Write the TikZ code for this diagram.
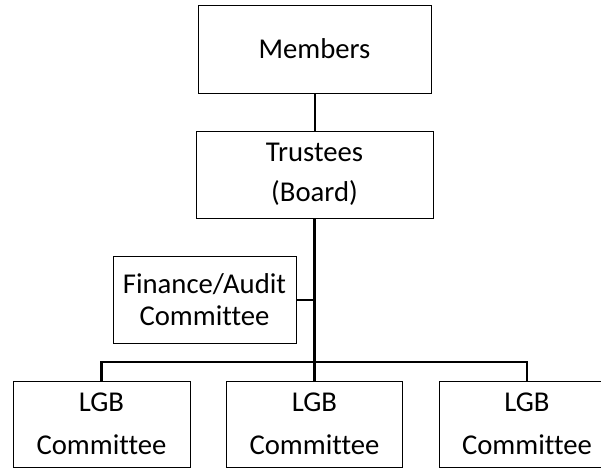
\documentclass[tikz,border=0pt]{standalone}
\usepackage{fontspec}
\setmainfont{Carlito}[Ligatures=NoCommon]
\begin{document}
\begin{tikzpicture}[x=1pt,y=-1pt,
  box/.style={draw=black, line width=0.9pt, inner sep=0pt, align=center},
  conn/.style={draw=black, line width=2pt},
  trunk/.style={draw=black, line width=3pt},
  bus/.style={draw=black, line width=2.5pt, line join=miter}]
\useasboundingbox (0,0) rectangle (601,468);
\clip (0,0) rectangle (601,468);
\node[box, minimum width=233pt, minimum height=88pt, font=\fontsize{28.7}{40}\selectfont] (members) at (314.5,49) {Members};
\node[box, minimum width=237pt, minimum height=87pt, font=\fontsize{28.7}{40}\selectfont] (trustees) at (314.5,174.5) {Trustees\\(Board)};
\node[box, minimum width=183pt, minimum height=87pt, font=\fontsize{28.7}{32}\selectfont] (finance) at (204.5,299.5) {Finance/Audit\\Committee};
\node[box, minimum width=177pt, minimum height=86pt, font=\fontsize{28.7}{43}\selectfont] (lgb1) at (101.5,424) {LGB\\Committee};
\node[box, minimum width=176pt, minimum height=86pt, font=\fontsize{28.7}{43}\selectfont] (lgb2) at (314.5,424) {LGB\\Committee};
\node[box, minimum width=176pt, minimum height=86pt, font=\fontsize{28.7}{43}\selectfont] (lgb3) at (527,424) {LGB\\Committee};
\coordinate (busL) at (101.5,362);
\coordinate (busM) at (314.5,362);
\coordinate (busR) at (527,362);
\coordinate (fj) at (314.5,299.5);
\draw[conn] (members.south) -- (trustees.north);
\draw[trunk] (trustees.south) -- (busM);
\draw[conn] (finance.east) -- (fj);
\draw[bus] (lgb1.north) -- (busL) -- (busR) -- (lgb3.north);
\draw[bus] (busM) -- (lgb2.north);
\end{tikzpicture}
\end{document}
